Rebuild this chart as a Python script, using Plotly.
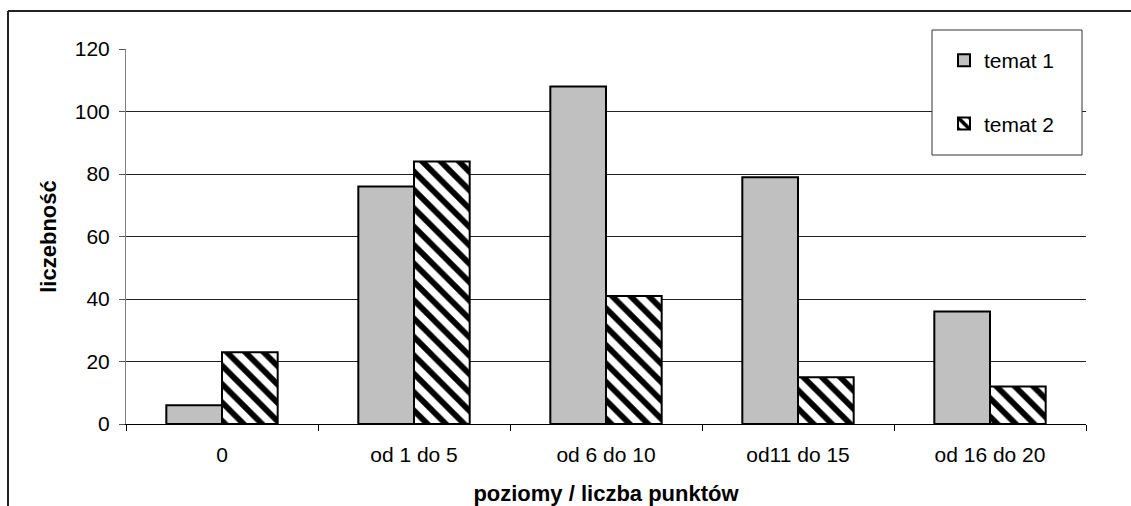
import plotly.graph_objects as go

categories = ["0", "od 1 do 5", "od 6 do 10", "od11 do 15", "od 16 do 20"]
temat1 = [6, 76, 108, 79, 36]
temat2 = [23, 84, 41, 15, 12]
series_names = ["temat 1", "temat 2"]
y_ticks = [0, 20, 40, 60, 80, 100, 120]

FONT = "Liberation Sans, Arial, sans-serif"
W, H = 1131, 506
L, R, T, B = 126, 45, 49, 82
pw, ph = W - L - R, H - T - B

def px(x):
    return (x - L) / pw

def py(y):
    return (H - B - y) / ph

fig = go.Figure()
fig.add_trace(go.Bar(
    x=categories, y=temat1, name=series_names[0], legendgroup="a",
    marker=dict(color="#C0C0C0", line=dict(color="black", width=2)),
))
fig.add_trace(go.Bar(
    x=categories, y=temat2, name=series_names[1], legendgroup="b",
    marker=dict(color="white", line=dict(color="black", width=2),
                pattern=dict(shape="\\", fgcolor="#000000", fgopacity=1,
                             bgcolor="white", fillmode="replace",
                             size=13, solidity=0.45)),
))

fig.update_layout(
    width=W, height=H,
    margin=dict(l=L, r=R, t=T, b=B),
    paper_bgcolor="white", plot_bgcolor="white",
    font=dict(family=FONT, size=21, color="black"),
    barmode="group", bargap=0.42, bargroupgap=0,
    showlegend=True,
    legend=dict(x=px(944), y=py(40), xanchor="left", yanchor="top",
                bgcolor="rgba(0,0,0,0)", borderwidth=0,
                tracegroupgap=33, traceorder="grouped",
                font=dict(family=FONT, size=21, color="black")),
    xaxis=dict(
        automargin=False,
        showline=True, linecolor="black", linewidth=1,
        ticks="outside", tickson="boundaries", ticklen=6, tickcolor="black",
        ticklabelstandoff=12,
        showgrid=False,
        title=dict(text="<b>poziomy / liczba punktów</b>", standoff=22,
                   font=dict(family=FONT, size=22)),
    ),
    yaxis=dict(
        automargin=False,
        range=[0, 120], tickvals=y_ticks,
        showline=True, linecolor="#808080", linewidth=1,
        ticks="outside", ticklen=6, tickcolor="#555555",
        ticklabelstandoff=5,
        showgrid=True, gridcolor="#222222", gridwidth=1,
        zeroline=False,
        title=dict(text="<b>liczebność</b>", standoff=12,
                   font=dict(family=FONT, size=22)),
    ),
    shapes=[
        dict(type="line", xref="paper", yref="paper",
             x0=px(8), x1=px(8), y0=py(11), y1=py(520),
             line=dict(color="#222222", width=2)),
        dict(type="line", xref="paper", yref="paper",
             x0=px(8), x1=px(1140), y0=py(11), y1=py(11),
             line=dict(color="#222222", width=2)),
        dict(type="rect", xref="paper", yref="paper", layer="above",
             x0=px(932), x1=px(1082), y0=py(155), y1=py(30),
             fillcolor="white", line=dict(color="#333333", width=1)),
    ],
)

fig.write_html("out.html", config={"displayModeBar": False},
               post_script="document.body.style.margin='0px';")
